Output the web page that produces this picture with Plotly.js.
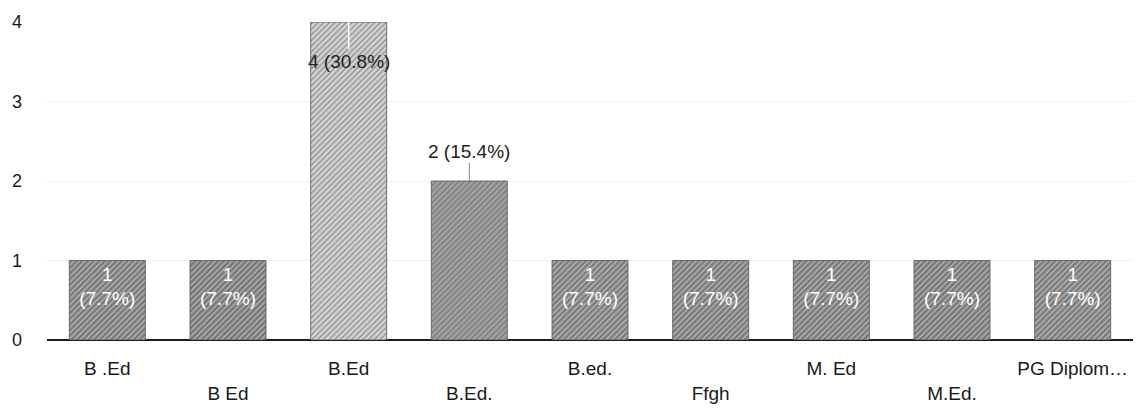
<!DOCTYPE html>
<html>
<head>
<meta charset="utf-8">
<script src="https://cdn.plot.ly/plotly-3.0.1.min.js"></script>
<style>
  html, body { margin: 0; padding: 0; background: #ffffff; }
  #chart { width: 1138px; height: 416px; }
</style>
</head>
<body>
<div id="chart"></div>
<script>
// ---- data ----
const categories = ['B .Ed', 'B Ed', 'B.Ed', 'B.Ed.', 'B.ed.', 'Ffgh', 'M. Ed', 'M.Ed.', 'PG Diplom\u2026'];
const counts = [1, 1, 4, 2, 1, 1, 1, 1, 1];
const yTicks = [0, 1, 2, 3, 4];

// ---- styles ----
const barFill = ['#7a7a7a', '#777777', '#d2d2d2', '#a2a2a2', '#7d7d7d', '#7b7b7b', '#7a7a7a', '#787878', '#7c7c7c'];
const barHatch = ['#505050', '#4e4e4e', '#aaaaaa', '#7e7e7e', '#545454', '#525252', '#515151', '#4f4f4f', '#535353'];
const FONT = 'Liberation Sans, Arial, sans-serif';

const total = counts.reduce((a, b) => a + b, 0);
const pct = counts.map(v => (100 * v / total).toFixed(1));

// small bars carry a two-line label inside; taller bars get annotated labels
const inside = counts.map(v => v === 1);
const barText = counts.map((v, i) => inside[i] ? v + '<br>(' + pct[i] + '%)' : '');
const textPos = counts.map((v, i) => inside[i] ? 'inside' : 'none');

// alternate tick label rows
const tickText = categories.map((c, i) => i % 2 === 1 ? '\u00a0<br>' + c : c);

const annotations = [];
counts.forEach((v, i) => {
  if (inside[i]) return;
  const top = v === Math.max(...counts);
  annotations.push({
    x: categories[i], y: v, xref: 'x', yref: 'y',
    text: v + ' (' + pct[i] + '%)',
    showarrow: true, arrowhead: 0,
    arrowcolor: top ? '#ffffff' : '#8a8a8a', arrowwidth: top ? 1.5 : 1,
    ax: 0, ay: top ? 39 : -30,
    font: { family: FONT, size: 19, color: '#222222' }
  });
});

const trace = {
  type: 'bar',
  x: categories,
  y: counts,
  text: barText,
  textposition: textPos,
  insidetextanchor: 'end',
  textfont: { family: FONT, size: 19, color: '#ffffff' },
  hoverinfo: 'none',
  cliponaxis: false,
  marker: {
    color: barFill,
    line: { color: '#555555', width: 0.8 },
    pattern: { shape: '/', fillmode: 'overlay', fgcolor: barHatch, size: 4, solidity: 0.3 }
  }
};

const layout = {
  width: 1138, height: 416,
  margin: { l: 47, r: 5, t: 22, b: 76 },
  paper_bgcolor: '#ffffff', plot_bgcolor: '#ffffff',
  showlegend: false,
  bargap: 0.37,
  font: { family: FONT, size: 18, color: '#1a1a1a' },
  xaxis: {
    type: 'category',
    tickmode: 'array', tickvals: categories, ticktext: tickText,
    tickfont: { family: FONT, size: 19, color: '#1a1a1a' },
    ticks: '', showgrid: false, showline: false, zeroline: false,
    ticklabelstandoff: 15, automargin: false
  },
  yaxis: {
    range: [0, 4], tickmode: 'array', tickvals: yTicks,
    tickfont: { family: FONT, size: 18, color: '#1a1a1a' },
    ticks: '', showgrid: true, gridcolor: '#f1f1f1', gridwidth: 1,
    zeroline: true, zerolinecolor: '#1e1e1e', zerolinewidth: 2,
    showline: false, ticklabelstandoff: 24, automargin: false
  },
  annotations: annotations
};

Plotly.newPlot('chart', [trace], layout, { staticPlot: true, displayModeBar: false });
</script>
</body>
</html>
